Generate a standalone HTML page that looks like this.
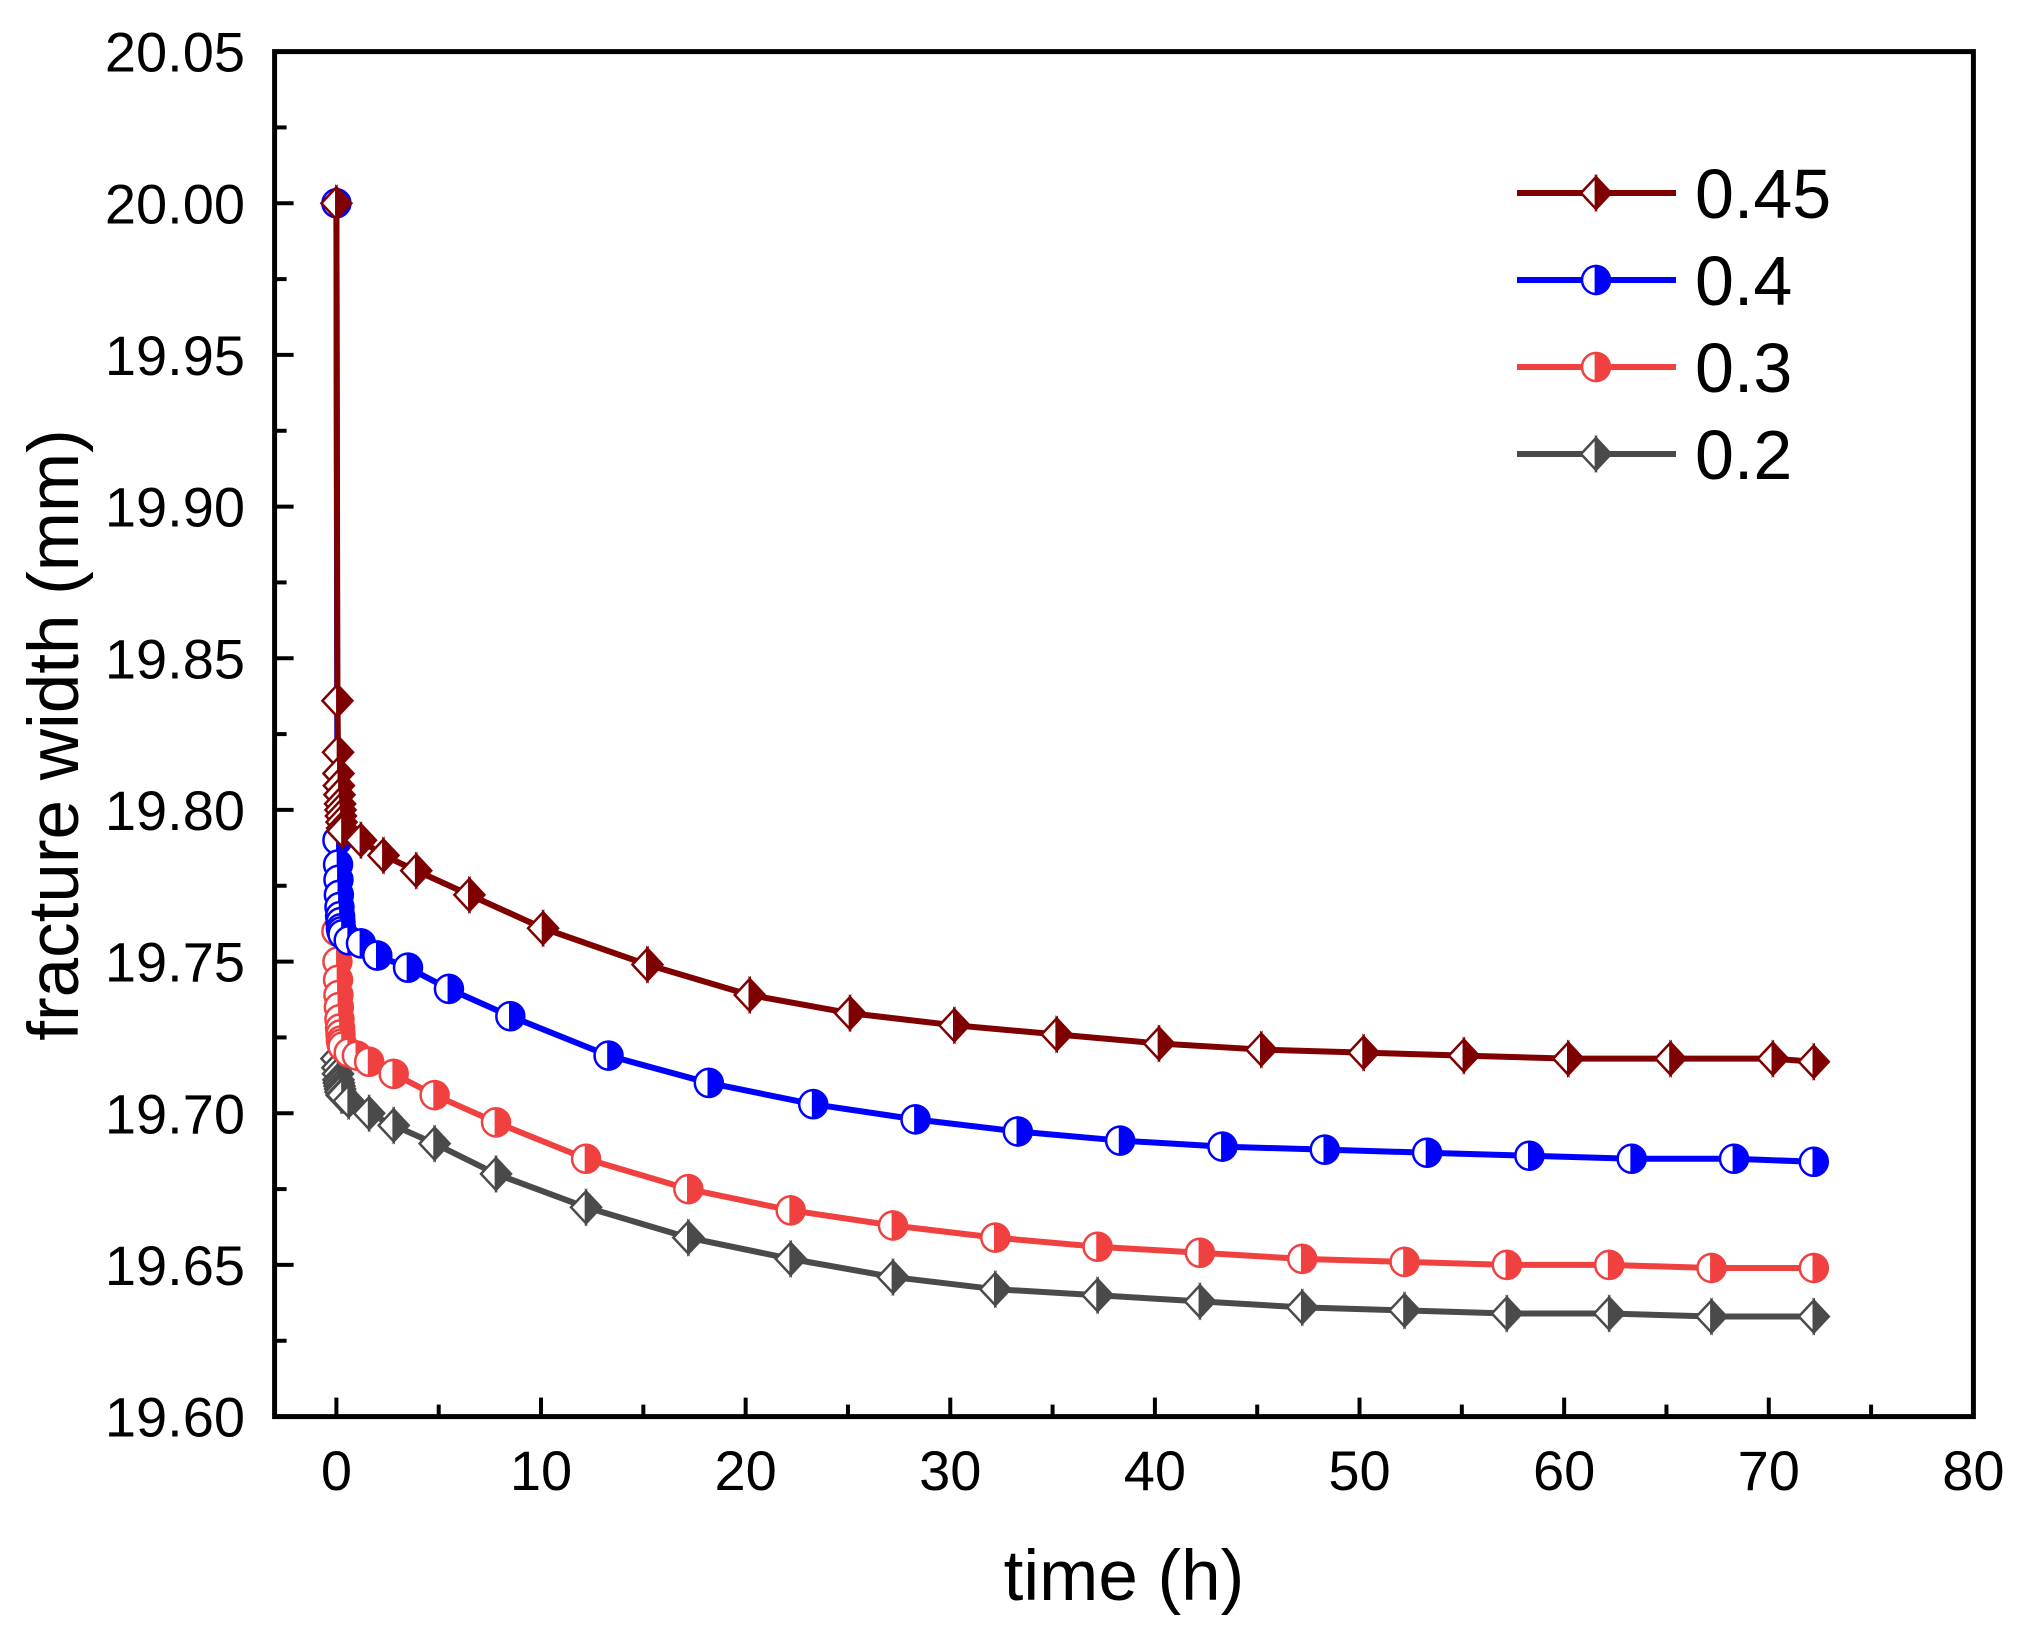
<!DOCTYPE html>
<html><head><meta charset="utf-8"><style>
html,body{margin:0;padding:0;background:#fff}
svg{display:block}
text{font-family:"Liberation Sans",Arial,sans-serif;fill:#000}
</style></head><body>
<svg id="chart" width="2021" height="1629" viewBox="0 0 2021 1629" xmlns="http://www.w3.org/2000/svg">
<g id="axes"></g>
<g id="series"></g>
<g id="legend"></g>
</svg>
<script>
const xTicks=[0,10,20,30,40,50,60,70,80];
const yTicks=[19.60,19.65,19.70,19.75,19.80,19.85,19.90,19.95,20.00,20.05];
const seriesNames=["0.2","0.3","0.4","0.45"];
const t45=[0,0.05,0.08,0.1,0.12,0.15,0.18,0.2,0.22,0.25,0.28,0.3,1.2,2.3,3.9,6.5,10.1,15.2,20.2,25.1,30.2,35.2,40.2,45.2,50.2,55.1,60.2,65.2,70.2,72.2];
const v45=[20.0,19.836,19.819,19.812,19.808,19.805,19.802,19.800,19.798,19.796,19.794,19.793,19.790,19.785,19.780,19.772,19.761,19.749,19.739,19.733,19.729,19.726,19.723,19.721,19.720,19.719,19.718,19.718,19.718,19.717];
const t40=[0,0.05,0.08,0.1,0.12,0.15,0.18,0.2,0.22,0.25,0.3,0.6,1.2,2,3.5,5.5,8.5,13.3,18.2,23.3,28.3,33.3,38.3,43.3,48.3,53.3,58.3,63.3,68.3,72.2];
const v40=[20.0,19.790,19.782,19.777,19.772,19.768,19.765,19.763,19.761,19.760,19.759,19.757,19.756,19.752,19.748,19.741,19.732,19.719,19.710,19.703,19.698,19.694,19.691,19.689,19.688,19.687,19.686,19.685,19.685,19.684];
const t30=[0,0.05,0.08,0.1,0.12,0.15,0.18,0.2,0.22,0.25,0.3,0.6,1.0,1.6,2.8,4.8,7.8,12.2,17.2,22.2,27.2,32.2,37.2,42.2,47.2,52.2,57.2,62.2,67.2,72.2];
const v30=[19.760,19.750,19.744,19.739,19.735,19.731,19.728,19.726,19.724,19.723,19.722,19.720,19.719,19.717,19.713,19.706,19.697,19.685,19.675,19.668,19.663,19.659,19.656,19.654,19.652,19.651,19.650,19.650,19.649,19.649];
const t20=[0,0.05,0.08,0.1,0.12,0.15,0.18,0.2,0.25,0.3,0.6,1.6,2.8,4.8,7.8,12.2,17.2,22.2,27.2,32.2,37.2,42.2,47.2,52.2,57.2,62.2,67.2,72.2];
const v20=[19.718,19.715,19.713,19.711,19.710,19.709,19.708,19.707,19.706,19.706,19.704,19.700,19.696,19.690,19.680,19.669,19.659,19.652,19.646,19.642,19.640,19.638,19.636,19.635,19.634,19.634,19.633,19.633];

const NS="http://www.w3.org/2000/svg";
const L=274.6,R=1973.4,T=51.6,B=1416.6;
const X0=336.4, XK=(1973.4-336.4)/80;
function xs(v){return X0+v*XK;}
function ys(v){return B-(v-19.60)/(0.45)*(B-T);}
function mk(tag,attrs,parent){const e=document.createElementNS(NS,tag);for(const k in attrs)e.setAttribute(k,attrs[k]);parent.appendChild(e);return e;}
const axes=document.getElementById('axes');
const sg=document.getElementById('series');
const lg=document.getElementById('legend');

let fr=mk('rect',{x:L,y:T,width:R-L,height:B-T,fill:'none',stroke:'#000','stroke-width':5},axes);

for(let i=0;i<yTicks.length;i++){
  const y=ys(yTicks[i]);
  let t=mk('line',{x1:L,x2:L+19,y1:y,y2:y,stroke:'#000','stroke-width':4},axes);
  
  let lb=mk('text',{x:245,y:y+20,'text-anchor':'end','font-size':56},axes);
  lb.textContent=yTicks[i].toFixed(2);
  
  if(i<yTicks.length-1){const ym=ys(yTicks[i]+0.025);
    let m=mk('line',{x1:L,x2:L+12,y1:ym,y2:ym,stroke:'#000','stroke-width':4},axes);
    }
}
for(let i=0;i<xTicks.length;i++){
  const x=xs(xTicks[i]);
  let t=mk('line',{x1:x,x2:x,y1:B,y2:B-19,stroke:'#000','stroke-width':4},axes);
  
  let lb=mk('text',{x:x,y:1490,'text-anchor':'middle','font-size':56},axes);
  lb.textContent=xTicks[i];
  
  if(i<xTicks.length-1){const xm=xs(xTicks[i]+5);
    let m=mk('line',{x1:xm,x2:xm,y1:B,y2:B-12,stroke:'#000','stroke-width':4},axes);
    }
}
let xt=mk('text',{x:1124,y:1600,'text-anchor':'middle','font-size':71},axes);
xt.textContent='time (h)';
let yt=mk('text',{x:0,y:0,'text-anchor':'middle','font-size':71,transform:'translate(78,735) rotate(-90)'},axes);
yt.textContent='fracture width (mm)';

function marker(kind,x,y,color,parent){
  const g=mk('g',{},parent);
  if(kind==='diamond'){
    const w=15,h=16;
    mk('polygon',{points:`${x},${y-h} ${x-w},${y} ${x},${y+h}`,fill:'#fff',stroke:color,'stroke-width':2.5},g);
    mk('polygon',{points:`${x},${y-h} ${x+w},${y} ${x},${y+h}`,fill:color,stroke:color,'stroke-width':2.5},g);
  }else{
    const r=14;
    mk('path',{d:`M${x},${y-r} A${r},${r} 0 0 0 ${x},${y+r} Z`,fill:'#fff',stroke:color,'stroke-width':2.5},g);
    mk('path',{d:`M${x},${y-r} A${r},${r} 0 0 1 ${x},${y+r} Z`,fill:color,stroke:color,'stroke-width':2.5},g);
  }
  return g;
}
const defs=[
 {name:'0.2',t:t20,v:v20,c:'#4a4a4a',k:'diamond'},
 {name:'0.3',t:t30,v:v30,c:'#f04040',k:'circle'},
 {name:'0.4',t:t40,v:v40,c:'#0000ff',k:'circle'},
 {name:'0.45',t:t45,v:v45,c:'#7f0000',k:'diamond'}];
defs.forEach(s=>{
  const g=mk('g',{},sg);
  
  const pts=s.t.map((t,i)=>xs(t)+','+ys(s.v[i])).join(' ');
  let pl=mk('polyline',{points:pts,fill:'none',stroke:s.c,'stroke-width':6,'stroke-linejoin':'round'},g);
  
  s.t.forEach((t,i)=>{const m=marker(s.k,xs(t),ys(s.v[i]),s.c,g);
    });
});
const legOrder=[3,2,1,0],legY=[193,280,367,454];
legOrder.forEach((idx,j)=>{
  const s=defs[idx],y=legY[j];
  const g=mk('g',{},lg);
  
  mk('line',{x1:1517,x2:1676,y1:y,y2:y,stroke:s.c,'stroke-width':6},g);
  marker(s.k,1596,y,s.c,g);
  let tx=mk('text',{x:1695,y:y+25,'font-size':70},g);
  tx.textContent=s.name;
});
</script>
</body></html>
